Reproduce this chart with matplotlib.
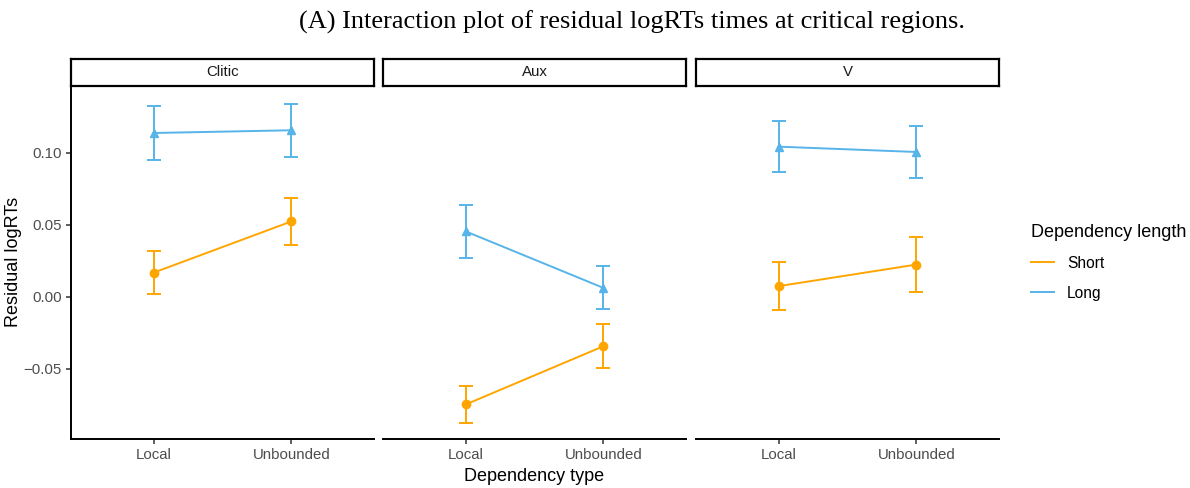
import matplotlib
matplotlib.use("Agg")
import matplotlib.pyplot as plt
from matplotlib.lines import Line2D
from matplotlib.ticker import FuncFormatter
import numpy as np

# mean residual logRTs per region, dependency type and dependency length
regions = ["Clitic", "Aux", "V"]
dep_types = ["Local", "Unbounded"]
lengths = ["Short", "Long"]

short_mean = [[0.0168, 0.0524], [-0.0749, -0.0344], [0.0074, 0.0224]]
short_err = [[0.0152, 0.0161], [0.0129, 0.0154], [0.0169, 0.0194]]
long_mean = [[0.1139, 0.1158], [0.0455, 0.0062], [0.1044, 0.1007]]
long_err = [[0.0188, 0.0183], [0.0186, 0.0150], [0.0178, 0.0178]]

y_ticks = [-0.05, 0.00, 0.05, 0.10]

colors = {"Short": "#FFA500", "Long": "#56B4E9"}
markers = {"Short": "o", "Long": "^"}

plt.rcParams["font.family"] = ["Liberation Sans", "DejaVu Sans"]

fig = plt.figure(figsize=(11.9, 4.88), dpi=100)

W, H = 1190.0, 488.0
panel_left = [71, 383, 696]
panel_w = 303
panel_top, panel_bottom = 88, 439
strip_top, strip_bottom = 58.5, 86

# shared y range with 5% padding like ggplot
all_lo = np.concatenate([np.array(short_mean) - np.array(short_err), np.array(long_mean) - np.array(long_err)])
all_hi = np.concatenate([np.array(short_mean) + np.array(short_err), np.array(long_mean) + np.array(long_err)])
lo, hi = all_lo.min(), all_hi.max()
pad = 0.05 * (hi - lo)

x = np.arange(len(dep_types))
series = {"Short": (short_mean, short_err), "Long": (long_mean, long_err)}

for i, region in enumerate(regions):
    ax = fig.add_axes([panel_left[i] / W, 1 - panel_bottom / H, panel_w / W, (panel_bottom - panel_top) / H])
    for name in lengths:
        means, errs = series[name]
        ax.errorbar(x, means[i], yerr=errs[i], color=colors[name], marker=markers[name],
                    markersize=6, linewidth=1.4, elinewidth=1.4, capsize=5, capthick=1.4)
    ax.set_xlim(-0.6, 1.6)
    ax.set_ylim(lo - pad, hi + pad)
    ax.set_xticks(x)
    ax.set_xticklabels(dep_types)
    ax.set_yticks(y_ticks)
    ax.yaxis.set_major_formatter(FuncFormatter(lambda v, p: ("%.2f" % v).replace("-", "\u2212")))
    for s in ["top", "right"]:
        ax.spines[s].set_visible(False)
    ax.spines["bottom"].set_linewidth(1.4)
    ax.spines["left"].set_linewidth(1.4)
    ax.tick_params(axis="both", colors="#333333", labelcolor="#4D4D4D", labelsize=10.8,
                   length=3.5, width=1.1, pad=3)
    if i > 0:
        ax.spines["left"].set_visible(False)
        ax.tick_params(axis="y", left=False, labelleft=False)
    if i == 1:
        ax.set_xlabel("Dependency type", fontsize=13, labelpad=4)

    # facet strip
    sax = fig.add_axes([panel_left[i] / W, 1 - strip_bottom / H, panel_w / W, (strip_bottom - strip_top) / H])
    sax.set_xticks([])
    sax.set_yticks([])
    for s in sax.spines.values():
        s.set_linewidth(1.6)
        s.set_color("black")
    sax.text(0.5, 0.5, region, ha="center", va="center", fontsize=10.8, color="#1A1A1A",
             transform=sax.transAxes)

fig.text(14 / W, 1 - 262 / H, "Residual logRTs", rotation=90, ha="center", va="center", fontsize=13)

handles = [Line2D([0], [0], color=colors[n], linewidth=1.4) for n in lengths]
fig.legend(handles, lengths, title="Dependency length", loc="upper left",
           bbox_to_anchor=(1017 / W, 1 - 210 / H), frameon=False, fontsize=11.2,
           title_fontsize=13, handlelength=1.5, handletextpad=0.8, labelspacing=0.95,
           alignment="left")

fig.text(632 / W, 1 - 22 / H, "(A) Interaction plot of residual logRTs times at critical regions.",
         ha="center", va="center", fontsize=19, family=["Liberation Serif", "DejaVu Serif"])

fig.savefig("out.png", dpi=100)
